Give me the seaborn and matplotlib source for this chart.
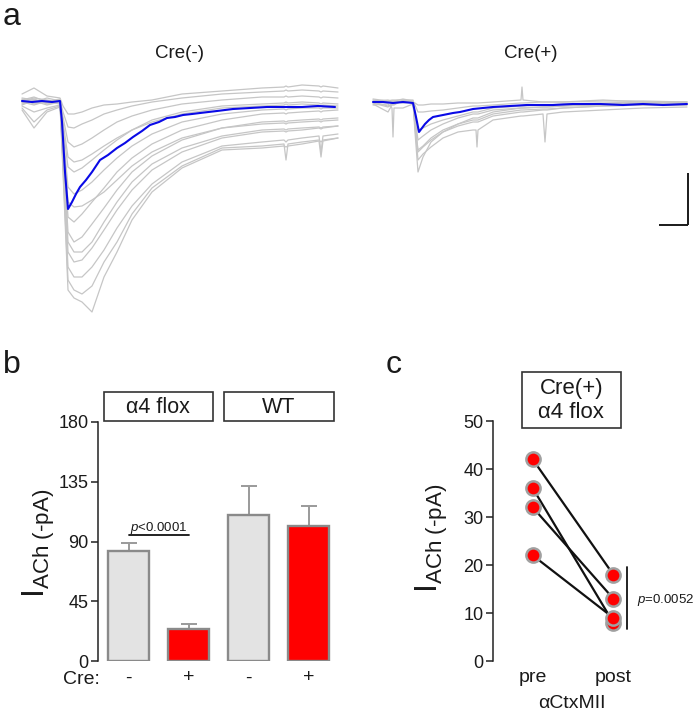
import numpy as np
import pandas as pd
import matplotlib
matplotlib.use('Agg')
import matplotlib.pyplot as plt
import matplotlib.transforms as mtransforms
from matplotlib.patches import Rectangle
import seaborn as sns

# ---------------- data ----------------
# Panel a: example current traces (time in a.u., current in a.u., baseline = 0)
left_t = [0, 12, 25, 38, 41, 46, 52, 60, 70, 82, 95, 110, 130, 160, 200, 240, 262, 264, 266, 280, 297, 299, 301, 316]
left_gray = [
    [8, 14, 6, 4, -4, -12, -12, -10, -6, -3, -2, 0, 2, 8, 11, 14, 15, 16, 15, 17, 16, 15, 16, 14],
    [2, 5, 0, 2, -10, -25, -26, -22, -18, -12, -8, -4, 0, 4, 8, 10, 11, 12, 11, 12, 11, 10, 11, 10],
    [-4, -10, -6, -3, -15, -40, -45, -42, -36, -28, -20, -14, -8, -2, 2, 5, 5, 6, 5, 6, 5, 4, 5, 4],
    [0, 3, -2, 0, -25, -65, -70, -66, -58, -48, -38, -28, -18, -10, -4, -2, -1, 0, -1, 0, -1, -2, -1, -2],
    [-2, 0, 4, 1, -30, -85, -92, -88, -80, -68, -56, -44, -32, -20, -12, -8, -7, -8, -7, -6, -6, -7, -6, -6],
    [3, -2, 0, -1, -40, -115, -120, -112, -100, -86, -70, -56, -42, -28, -18, -12, -11, -12, -11, -10, -9, -10, -9, -8],
    [-6, -20, -8, -4, -45, -130, -140, -135, -122, -106, -88, -70, -54, -38, -26, -20, -19, -20, -19, -18, -17, -18, -17, -16],
    [1, 4, 2, 0, -55, -150, -160, -158, -146, -128, -108, -88, -68, -50, -36, -30, -29, -30, -29, -28, -26, -27, -26, -24],
    [0, -3, 1, 2, -60, -165, -175, -175, -165, -148, -126, -104, -82, -60, -44, -40, -38, -40, -38, -36, -34, -50, -34, -32],
    [-3, 2, -1, 0, -65, -178, -188, -192, -184, -160, -140, -112, -86, -64, -46, -44, -42, -58, -42, -40, -38, -40, -38, -36],
    [2, -1, 0, -2, -70, -188, -196, -200, -210, -175, -150, -118, -90, -66, -48, -46, -44, -45, -44, -42, -39, -55, -39, -36],
    [-1, 1, -3, 0, -35, -100, -105, -104, -98, -90, -78, -64, -50, -36, -26, -22, -21, -22, -21, -20, -19, -20, -19, -18],
    [4, 2, 0, 3, -20, -55, -60, -58, -52, -44, -36, -28, -20, -12, -6, -4, -3, -2, -3, -2, -3, -4, -3, -4],
    [-8, -26, -10, -5, -50, -140, -150, -150, -140, -120, -100, -80, -62, -46, -34, -28, -27, -28, -27, -26, -25, -26, -25, -24],
]
left_blue_t = [0, 10, 20, 30, 38, 40, 43, 46, 50, 54, 58, 64, 70, 78, 86, 95, 103, 111, 120, 128, 137, 145, 153, 161, 170, 178, 195, 211, 228, 245, 262, 280, 296, 313]
left_blue_y = [1, 0, 1, 0, 1, -20, -70, -107, -100, -92, -85, -78, -70, -58, -53, -46, -41, -35, -29, -23, -20, -16, -15, -13, -12, -11, -9, -7, -6, -5, -5, -5, -4, -5]

right_t = [0, 15, 19, 20, 21, 30, 40, 42, 45, 50, 58, 70, 85, 100, 103, 104, 105, 120, 148, 149, 150, 170, 172, 174, 190, 230, 270, 314]
right_gray = [
    [2, 0, 1, 1, 1, 3, 1, -30, -70, -55, -40, -30, -22, -16, -16, -16, -16, -10, -6, -6, -6, -5, -5, -5, -4, -2, -1, 0],
    [0, -4, -2, -2, -2, 1, 0, -20, -50, -45, -38, -30, -24, -20, -20, -20, -20, -14, -10, -10, -10, -8, -8, -8, -6, -4, -3, -3],
    [-3, -2, -6, -35, -6, -6, -2, -10, -28, -26, -22, -18, -14, -10, -10, -10, -10, -6, -4, -4, -4, -3, -3, -3, -2, -1, 0, -2],
    [1, 2, 1, 1, 1, 0, 1, -3, -10, -10, -9, -8, -6, -4, -4, -4, -4, -3, -1, -1, -1, 0, 0, 0, 0, 1, 1, 0],
    [-1, -5, -2, -2, -2, 1, 0, -25, -58, -52, -45, -36, -30, -28, -28, -45, -28, -18, -14, -14, -14, -12, -40, -12, -10, -8, -6, -5],
    [3, 1, 2, 2, 2, 2, 2, -15, -38, -34, -28, -22, -16, -12, -12, -12, -12, -8, -6, -6, -6, -5, -5, -5, -4, -3, -2, -1],
    [0, 0, 0, 0, 0, -1, 0, -1, -3, -3, -2, -2, -1, -1, -1, -1, -1, 0, 2, 15, 2, 0, 0, 0, 0, 2, 0, 0],
    [-2, -10, -3, -3, -3, 2, -1, -22, -48, -44, -36, -28, -22, -18, -18, -18, -18, -12, -8, -8, -8, -7, -7, -7, -6, -4, -3, -3],
]
right_blue_t = [0, 10, 20, 30, 40, 43, 46, 49, 52, 56, 60, 70, 80, 87, 100, 110, 120, 137, 154, 180, 200, 227, 250, 270, 290, 314]
right_blue_y = [0, 0, -1, 0, -1, -15, -30, -26, -22, -18, -15, -13, -11, -10, -7, -6, -5, -4, -3, -3, -2, -2, -3, -2, -3, -2]

trace_titles = ['Cre(-)', 'Cre(+)']

# Panel b: bar chart
bar_conditions = ['flox -', 'flox +', 'WT -', 'WT +']
bar_cre_labels = ['-', '+', '-', '+']
bar_means = [83, 24, 110, 101.5]
bar_sem = [6, 4, 22, 15.5]
bar_groups = ['\u03b14 flox', 'WT']

# Panel c: paired pre/post
pair_pre = [42, 36, 32, 22]
pair_post = [18, 8, 13, 9]
pair_labels = ['pre', 'post']

# ---------------- style ----------------
sns.set_theme(style='white')
plt.rcParams['font.family'] = ['Liberation Sans', 'DejaVu Sans']
plt.rcParams['mathtext.fontset'] = 'custom'
plt.rcParams['mathtext.rm'] = 'Liberation Sans'
plt.rcParams['mathtext.it'] = 'Liberation Sans:italic'
plt.rcParams['mathtext.bf'] = 'Liberation Sans:bold'
TXT = '#1a1a1a'

W, H = 696, 715
fig = plt.figure(figsize=(W / 100, H / 100), dpi=100)


def px_axes(x0, y0, x1, y1):
    return fig.add_axes([x0 / W, 1 - y1 / H, (x1 - x0) / W, (y1 - y0) / H])


def ftext(x, y, s, **kw):
    return fig.text(x / W, 1 - y / H, s, **kw)


# ---------------- panel a ----------------
ax_l = px_axes(20, 80, 340, 320)
ax_r = px_axes(371, 80, 691, 320)

for ax, tt, grays, bt, by in [(ax_l, left_t, left_gray, left_blue_t, left_blue_y),
                              (ax_r, right_t, right_gray, right_blue_t, right_blue_y)]:
    rows = []
    for i, tr in enumerate(grays):
        for t, v in zip(tt, tr):
            rows.append((i, t, v))
    df = pd.DataFrame(rows, columns=['trace', 't', 'I'])
    sns.lineplot(data=df, x='t', y='I', units='trace', estimator=None, color='#c6c6c6',
                 lw=0.9, ax=ax, legend=False)
    sns.lineplot(x=bt, y=by, color='#0a0ae6', lw=1.5, ax=ax, estimator=None)
    ax.set_xlim(-2, 318)
    ax.set_ylim(-218, 22)
    ax.axis('off')

# scale bar
ax_r.plot([315.3, 315.3], [-70.7, -123], color='k', lw=1.4, solid_capstyle='butt')
ax_r.plot([286.3, 315.3], [-123, -123], color='k', lw=1.4, solid_capstyle='butt')

ftext(180, 53, trace_titles[0], ha='center', va='center', fontsize=13.5, color=TXT)
ftext(531, 53, trace_titles[1], ha='center', va='center', fontsize=13.5, color=TXT)

# ---------------- panel b ----------------
axb = px_axes(98, 422, 332.7, 661)
sns.barplot(x=bar_conditions, y=bar_means, hue=bar_conditions,
            palette=['#e3e3e3', '#ff0000', '#e3e3e3', '#ff0000'], legend=False, saturation=1,
            width=0.683, edgecolor='#8a8a8a', linewidth=1.7, errorbar=None, ax=axb, zorder=2)
axb.errorbar(range(4), bar_means, yerr=[[0] * 4, bar_sem], fmt='none', ecolor='#9a9a9a',
             elinewidth=1.4, capsize=5.5, capthick=1.4, zorder=1)
axb.set_xlim(-0.513, 3.4)
axb.set_ylim(0, 180)
axb.set_yticks([0, 45, 90, 135, 180])
axb.set_xticks(range(4))
axb.set_xticklabels(bar_cre_labels, fontsize=14, color=TXT)
axb.tick_params(axis='x', length=0, pad=6)
axb.tick_params(axis='y', direction='out', length=5, width=1.1, color='#222', labelsize=13,
                labelcolor=TXT, pad=2, left=True)
sns.despine(ax=axb, bottom=True)
axb.spines['left'].set_color('#222')
axb.spines['left'].set_linewidth(1.1)
axb.set_xlabel('')
axb.set_ylabel('')

trans_b = mtransforms.blended_transform_factory(axb.transData, axb.transAxes)
for (x0, x1), lab, xc in zip([(-0.41, 1.41), (1.59, 3.42)], bar_groups, [0.493, 2.505]):
    axb.add_patch(Rectangle((x0, 1.004), x1 - x0, 0.12, transform=trans_b, fill=False,
                            edgecolor='#333', lw=1.2, clip_on=False))
    axb.text(xc, 1.062, lab, transform=trans_b, ha='center', va='center', fontsize=15.5, color=TXT)

axb.plot([0, 1], [94.8, 94.8], color='#111', lw=1.3)
axb.text(0.5, 100.5, r'$\it{p}$<0.0001', ha='center', va='center', fontsize=9.5, color=TXT)

ftext(81, 680, 'Cre:', ha='center', va='center', fontsize=14, color=TXT)
ftext(39, 543, r'$\mathregular{I_{ACh\ (\text{-}pA)}}$', rotation=90, ha='center', va='center',
      fontsize=23, color=TXT)

# ---------------- panel c ----------------
axc = px_axes(493.3, 421, 641.5, 661)
rows = []
for i, (a, b) in enumerate(zip(pair_pre, pair_post)):
    rows.append((i, 0, a))
    rows.append((i, 1, b))
dfc = pd.DataFrame(rows, columns=['cell', 'x', 'I'])
sns.lineplot(data=dfc, x='x', y='I', units='cell', estimator=None, color='#111', lw=1.6,
             ax=axc, legend=False, zorder=2)
sns.scatterplot(data=dfc, x='x', y='I', color='#ff0000', edgecolor='#a0a0a0', linewidth=1.8,
                s=105, ax=axc, zorder=3, legend=False)
axc.set_xlim(-0.49, 1.35)
axc.set_ylim(0, 50)
axc.set_yticks([0, 10, 20, 30, 40, 50])
axc.set_xticks([0, 1])
axc.set_xticklabels(pair_labels, fontsize=14, color=TXT)
axc.tick_params(axis='x', length=0, pad=6)
axc.tick_params(axis='y', direction='out', length=5, width=1.1, color='#222', labelsize=13,
                labelcolor=TXT, pad=2, left=True)
sns.despine(ax=axc, bottom=True)
axc.spines['left'].set_color('#222')
axc.spines['left'].set_linewidth(1.1)
axc.set_xlabel('')
axc.set_ylabel('')

trans_c = mtransforms.blended_transform_factory(axc.transData, axc.transAxes)
axc.add_patch(Rectangle((-0.136, 0.9696), 1.228, 0.2358, transform=trans_c, fill=False,
                        edgecolor='#333', lw=1.2, clip_on=False))
axc.text(0.478, 1.136, 'Cre(+)', transform=trans_c, ha='center', va='center', fontsize=16, color=TXT)
axc.text(0.478, 1.034, '\u03b14 flox', transform=trans_c, ha='center', va='center', fontsize=16, color=TXT)

axc.plot([1.166, 1.166], [6.6, 19.6], color='#111', lw=1.3, clip_on=False)
axc.text(1.30, 12.7, r'$\it{p}$=0.0052', ha='left', va='center', fontsize=9.5, color=TXT,
         clip_on=False)

ftext(572, 703, '\u03b1CtxMII', ha='center', va='center', fontsize=14, color=TXT)
ftext(432, 538, r'$\mathregular{I_{ACh\ (\text{-}pA)}}$', rotation=90, ha='center', va='center',
      fontsize=23, color=TXT)

# panel letters
ftext(3, 25, 'a', ha='left', va='baseline', fontsize=23, color=TXT)
ftext(3, 373, 'b', ha='left', va='baseline', fontsize=23, color=TXT)
ftext(386, 373, 'c', ha='left', va='baseline', fontsize=23, color=TXT)

fig.savefig('out.png', dpi=100)
